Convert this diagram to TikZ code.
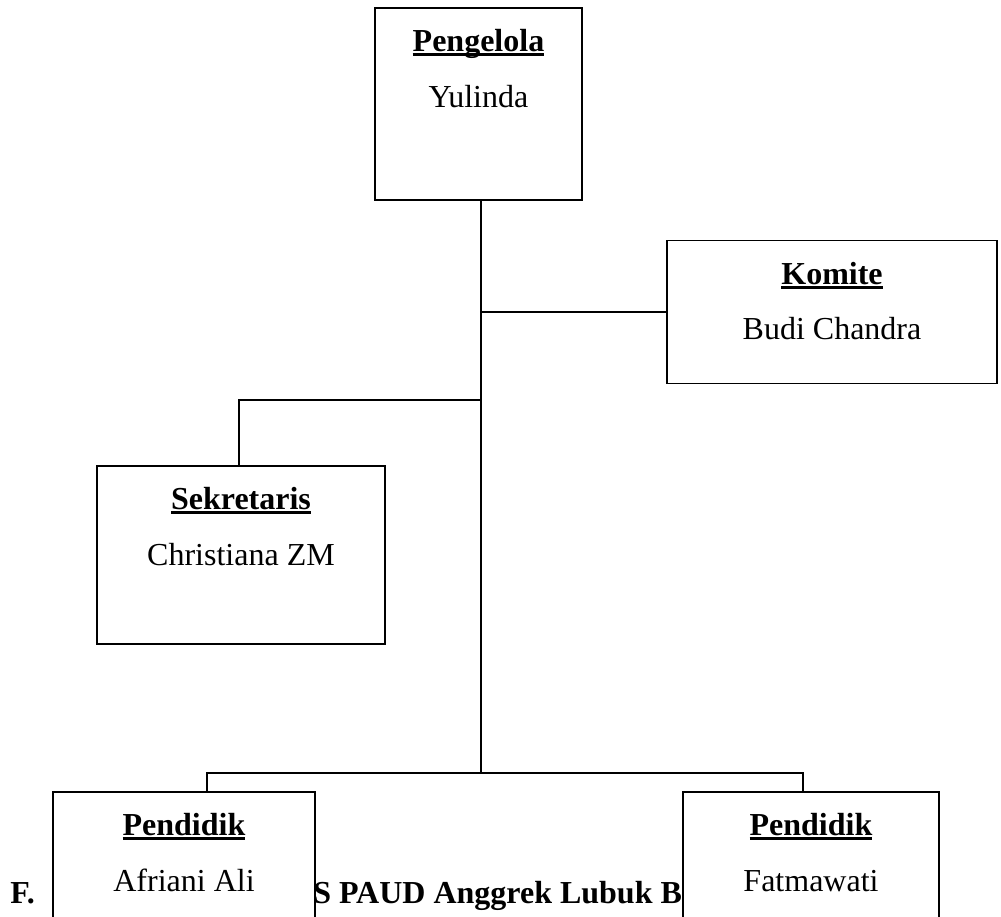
\documentclass[tikz,border=0pt]{standalone}
\usepackage{fontspec}
\setmainfont{Liberation Serif}
\usepackage{tikz}

\newsavebox\headbox
\newcommand{\headul}[1]{\sbox\headbox{\textbf{#1}}\rlap{\rule[-3.2pt]{\wd\headbox}{2.1pt}}\usebox\headbox}

\begin{document}
\begin{tikzpicture}[x=0.75pt,y=0.75pt,yscale=-1,xscale=1,
  every node/.style={font=\fontsize{24}{28}\selectfont},
  orgbox/.style={draw, line width=1.1pt, fill=white, inner sep=0pt},
  headtext/.style={anchor=base, inner sep=0pt},
  link/.style={line width=1.1pt}]
\useasboundingbox (0,0) rectangle (1001,917);

% Text Node (title, partly under the boxes)
\node [anchor=base west, inner sep=0pt, font=\fontsize{24}{28}\selectfont\bfseries] (title-a) at (10,903) {F.};
\node [anchor=base west, inner sep=0pt, font=\fontsize{24}{28}\selectfont\bfseries] (title-b) at (313,903) {S PAUD Anggrek Lubuk B};

%Shape: Rectangle [pengelola]
\node [orgbox, minimum width=155.25pt, minimum height=144pt] (pengelola) at (478.5,104) {};
%Shape: Rectangle [komite]
\node [orgbox, minimum width=247.5pt, minimum height=107.25pt] (komite) at (832,312) {};
%Shape: Rectangle [sekretaris]
\node [orgbox, minimum width=216pt, minimum height=133.5pt] (sekretaris) at (241,555) {};
%Shape: Rectangle [pendidik 1]
\node [orgbox, minimum width=196.5pt, minimum height=156pt] (pendidik-a) at (184,896) {};
%Shape: Rectangle [pendidik 2]
\node [orgbox, minimum width=192pt, minimum height=156pt] (pendidik-b) at (811,896) {};

% Text Node
\node [headtext] (pengelola-head) at ([yshift=33.5pt]pengelola.north) {\headul{Pengelola}};
\node [headtext] (pengelola-name) at ([yshift=75pt]pengelola.north) {Yulinda};
% Text Node
\node [headtext] (komite-head) at ([yshift=33.5pt]komite.north) {\headul{Komite}};
\node [headtext] (komite-name) at ([yshift=75pt]komite.north) {Budi Chandra};
% Text Node
\node [headtext] (sekretaris-head) at ([yshift=33.5pt]sekretaris.north) {\headul{Sekretaris}};
\node [headtext] (sekretaris-name) at ([yshift=75pt]sekretaris.north) {Christiana ZM};
% Text Node
\node [headtext] (pendidik-a-head) at ([yshift=33.5pt]pendidik-a.north) {\headul{Pendidik}};
\node [headtext] (pendidik-a-name) at ([yshift=75pt]pendidik-a.north) {Afriani Ali};
% Text Node
\node [headtext] (pendidik-b-head) at ([yshift=33.5pt]pendidik-b.north) {\headul{Pendidik}};
\node [headtext] (pendidik-b-name) at ([yshift=75pt]pendidik-b.north) {Fatmawati};

%Straight Lines
\coordinate (sek-branch) at (481,400);
\coordinate (bus) at (481,773);
\draw [link] ([xshift=1.9pt]pengelola.south) -- ([xshift=1.9pt]pengelola.south |- bus);
\draw [link] (komite.west) -- (komite.west -| bus);
\draw [link] ([xshift=-1.5pt]sekretaris.north) |- (sek-branch);
\draw [link] ([xshift=17.25pt]pendidik-a.north) |- (bus) -| ([xshift=-6pt]pendidik-b.north);

\end{tikzpicture}
\end{document}
